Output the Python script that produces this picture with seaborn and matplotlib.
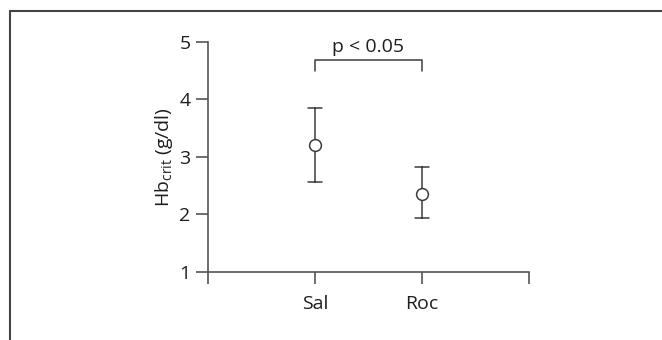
import matplotlib
matplotlib.use("Agg")
import matplotlib.pyplot as plt
from matplotlib.lines import Line2D
import seaborn as sns
import pandas as pd

# ---- data ----
groups = ["Sal", "Roc"]
means = [3.20, 2.35]
upper = [3.85, 2.82]
lower = [2.57, 1.93]
y_ticks = [1, 2, 3, 4, 5]
p_text = "p < 0.05"
y_label = r"Hb$_{\mathrm{crit}}$ (g/dl)"

# long-form table: median of (lower, mean, upper) = mean, 100% interval = (lower, upper)
rows = []
for g, m, u, l in zip(groups, means, upper, lower):
    for v in (l, m, u):
        rows.append({"group": g, "value": v})
df = pd.DataFrame(rows)

sns.set_theme(style="ticks")
plt.rcParams["font.family"] = ["Open Sans", "DejaVu Sans"]
plt.rcParams["mathtext.fontset"] = "custom"
plt.rcParams["mathtext.rm"] = "Open Sans"
plt.rcParams["mathtext.it"] = "Open Sans:italic"

line_col = "#3c3c3c"
axis_col = "#555555"
txt_col = "#1e1e1e"
fs = 14

fig = plt.figure(figsize=(6.62, 3.40), dpi=100)
ax = fig.add_axes([208 / 662, 1 - 272 / 340, 321 / 662, (272 - 41.7) / 340])

sns.pointplot(
    data=df, x="group", y="value", order=groups,
    estimator="median", errorbar=("pi", 100),
    capsize=0.13, linestyle="none", marker="o",
    color=line_col, markersize=8.5, markeredgewidth=1.1,
    markerfacecolor="white",
    err_kws={"linewidth": 1.1, "color": line_col},
    ax=ax,
)
# markers above error bars
for ln in ax.lines:
    if ln.get_marker() not in (None, "None", "", " "):
        ln.set_zorder(5)

ax.set_xlim(-1, 2)
ax.set_ylim(1, 5)
ax.set_xticks([-1, 0, 1, 2])
ax.set_xticklabels(["", groups[0], groups[1], ""])
ax.set_yticks(y_ticks)
ax.set_yticklabels([str(t) for t in y_ticks])
ax.set_xlabel("")
ax.set_ylabel(y_label, fontsize=fs, color=txt_col, labelpad=3)

for side in ("top", "right"):
    ax.spines[side].set_visible(False)
for side in ("left", "bottom"):
    ax.spines[side].set_color(axis_col)
    ax.spines[side].set_linewidth(1.2)
ax.tick_params(axis="both", colors=axis_col, width=1.2, length=8.5,
               labelsize=fs, labelcolor=txt_col)
ax.tick_params(axis="x", pad=8)
ax.tick_params(axis="y", pad=4)
ax.set_facecolor("white")

# significance bracket
ax.plot([0, 0, 1, 1], [4.49, 4.69, 4.69, 4.49], color=line_col, lw=1.1,
        clip_on=False)
ax.text(0.5, 4.82, p_text, ha="center", va="baseline", fontsize=fs,
        color=txt_col)

# figure frame (left and top edges)
x0 = 9.5 / 662
y0 = 1 - 10.5 / 340
fig.add_artist(Line2D([x0, x0], [0, y0], transform=fig.transFigure,
                      color="#444444", lw=1.5))
fig.add_artist(Line2D([x0, 1], [y0, y0], transform=fig.transFigure,
                      color="#444444", lw=1.5))

fig.savefig("out.png", dpi=100, facecolor="white")
